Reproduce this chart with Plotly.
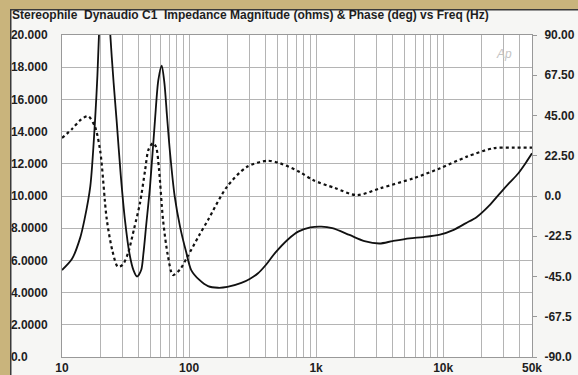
import base64
import struct
import zlib
import plotly.graph_objects as go

# ---- data ----
mag_freq = [10, 12, 13.9, 15, 16.7, 18.2, 19, 20, 21.3, 22.5, 24, 25.5, 26.9, 29, 31.3, 34, 36.5,
            39, 42, 43.7, 46, 49.3, 53.9, 57.3, 60.9, 64, 67, 70.8, 77, 84.9, 95, 104, 120, 141,
            169, 200, 258, 300, 349, 400, 474, 600, 729, 900, 1100, 1340, 1830, 2400, 3150, 4000,
            5440, 7000, 9420, 12100, 15000, 18400, 23000, 28200, 33000, 38900, 45000, 50000]
mag_ohms = [5.4, 6.1, 7.4, 8.5, 10.6, 14.7, 17.5, 22.0, 26.0, 24.5, 20.0, 17.0, 14.7, 11.3, 8.5, 6.4, 5.4,
            5.0, 5.4, 6.4, 8.2, 10.6, 14.7, 17.2, 18.1, 17.0, 15.0, 12.7, 10.0, 8.1, 6.5, 5.4, 4.8, 4.4,
            4.3, 4.35, 4.6, 4.85, 5.2, 5.7, 6.45, 7.3, 7.8, 8.05, 8.1, 8.0, 7.58, 7.2, 7.05, 7.2,
            7.37, 7.45, 7.6, 7.9, 8.3, 8.7, 9.4, 10.2, 10.8, 11.4, 12.1, 12.65]

ph_freq = [10, 12, 14, 16, 18.2, 20, 22.5, 25, 27.5, 30, 33.1, 37, 41.1, 45, 48, 52, 55, 58,
           62.4, 68, 74.7, 85, 97, 120, 141, 198, 284, 410, 519, 748, 946, 1400, 2090, 3190,
           5830, 9460, 15400, 24900, 35000, 50000]
ph_deg = [32.4, 37.5, 42.5, 44.7, 38.6, 25.0, -13.0, -31.0, -39.5, -38.5, -31.9, -18.0, -3.9, 14.0, 26.0, 29.6, 27.4, 15.0,
          -13.4, -33.0, -44.2, -41.0, -34.0, -22.0, -13.4, 5.0, 16.2, 19.7, 18.3, 13.3, 8.9, 4.5, 0.5, 4.3,
          9.9, 15.5, 22.0, 26.7, 27.0, 27.0]

x_tickvals = [10, 100, 1000, 10000, 50000]
x_ticktext = ["10", "100", "1k", "10k", "50k"]
x_minor = [20, 30, 40, 50, 60, 70, 80, 90, 200, 300, 400, 500, 600, 700, 800, 900,
           2000, 3000, 4000, 5000, 6000, 7000, 8000, 9000, 20000, 30000, 40000]
yl_tickvals = [0, 2, 4, 6, 8, 10, 12, 14, 16, 18, 20]
yl_ticktext = ["0.0\u2007\u2007\u2007", "2.0000", "4.0000", "6.0000", "8.0000", "10.000",
               "12.000", "14.000", "16.000", "18.000", "20.000"]
yr_tickvals = [-90, -67.5, -45, -22.5, 0, 22.5, 45, 67.5, 90]
yr_ticktext = ["-90.0", "-67.5", "-45.0", "-22.5", "0.0", "22.50", "45.00", "67.50", "90.00"]

title_text = "Stereophile  Dynaudio C1  Impedance Magnitude (ohms) & Phase (deg) vs Freq (Hz)"

FONT = "Liberation Sans, Arial, sans-serif"
TXT = "#1e1e1e"
GRID = "#b4b4b4"


def solid_png(r, g, b):
    def chunk(tag, data):
        return (struct.pack(">I", len(data)) + tag + data
                + struct.pack(">I", zlib.crc32(tag + data) & 0xFFFFFFFF))
    ihdr = struct.pack(">IIBBBBB", 1, 1, 8, 2, 0, 0, 0)
    raw = b"\x00" + bytes([r, g, b])
    png = (b"\x89PNG\r\n\x1a\n" + chunk(b"IHDR", ihdr)
           + chunk(b"IDAT", zlib.compress(raw)) + chunk(b"IEND", b""))
    return "data:image/png;base64," + base64.b64encode(png).decode()


TAN_IMG = solid_png(0xC9, 0xB4, 0x7C)
DARK_IMG = solid_png(0x3A, 0x3A, 0x3A)

fig = go.Figure()
fig.add_trace(go.Scatter(x=mag_freq, y=mag_ohms, mode="lines", line=dict(color="#111", width=1.8, shape="spline", smoothing=0.8),
                         yaxis="y", showlegend=False, hoverinfo="skip"))
fig.add_trace(go.Scatter(x=ph_freq, y=ph_deg, mode="lines", line=dict(color="#111", width=2.2, dash="dot", shape="spline", smoothing=0.8),
                         yaxis="y2", showlegend=False, hoverinfo="skip"))

W, H = 578, 375
L, R, T, B = 62, 532, 35, 357
PW, PH = R - L, B - T


def px_x(p):
    return (p - L) / PW


def px_y(p):
    return (B - p) / PH


def block(src, x0, y0, x1, y1):
    # decorative scan border; pixel box converted to paper fractions
    return dict(source=src, xref="paper", yref="paper", x=px_x(x0), y=px_y(y0),
                sizex=(x1 - x0) / PW, sizey=(y1 - y0) / PH, sizing="stretch",
                xanchor="left", yanchor="top", layer="above")


images = [
    block(TAN_IMG, -2, -2, 10, H + 2),
    block(TAN_IMG, -2, -2, W + 2, 9),
    block(DARK_IMG, 10, 9, 11.5, H + 2),
    block(DARK_IMG, 10, 9, W + 2, 10.5),
]

fig.update_layout(
    width=W, height=H,
    margin=dict(l=L, r=W - R, t=T, b=H - B, pad=0, autoexpand=False),
    paper_bgcolor="#f6f6f4", plot_bgcolor="#ffffff",
    font=dict(family=FONT, size=12, color=TXT),
    title=dict(text=title_text, x=12 / W, xanchor="left", xref="container",
               y=1 - 14.5 / H, yanchor="middle", yref="container", automargin=False,
               font=dict(family=FONT, size=12, color=TXT, weight="bold")),
    xaxis=dict(type="log", range=[1, 4.69897], tickvals=x_tickvals, ticktext=x_ticktext,
               ticks="", showgrid=True, gridcolor=GRID, gridwidth=1, automargin=False,
               minor=dict(tickvals=x_minor, showgrid=True, gridcolor=GRID, gridwidth=1, ticks=""),
               showline=True, linecolor="#999", mirror=True, zeroline=False,
               tickfont=dict(size=12, weight="bold", color=TXT), ticklabelstandoff=0),
    yaxis=dict(range=[0, 20], tickvals=yl_tickvals, ticktext=yl_ticktext, ticks="", automargin=False,
               showgrid=True, gridcolor=GRID, gridwidth=1, zeroline=False,
               showline=True, linecolor="#999", mirror=True,
               tickfont=dict(size=12, weight="bold", color=TXT), ticklabelstandoff=11),
    yaxis2=dict(range=[-90, 90], tickvals=yr_tickvals, ticktext=yr_ticktext, overlaying="y", side="right",
                ticks="outside", ticklen=4, tickcolor="#999", showgrid=False, zeroline=False, automargin=False,
                tickfont=dict(size=12, weight="bold", color=TXT), ticklabelstandoff=5),
    images=images,
    annotations=[dict(text="<i>Ap</i>", xref="paper", yref="paper", x=px_x(514), y=px_y(45),
                      showarrow=False, font=dict(family=FONT, size=12, color="#c4c4c4"))],
)

fig.write_html("out.html")
